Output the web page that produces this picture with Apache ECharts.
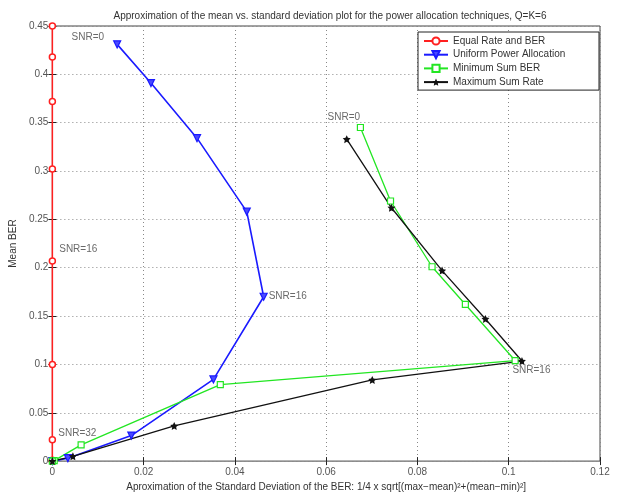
<!DOCTYPE html>
<html>
<head>
<meta charset="utf-8">
<script src="https://cdn.jsdelivr.net/npm/echarts@6/dist/echarts.min.js"></script>
<style>
  html, body { margin: 0; padding: 0; background: #fff; }
  #chart { width: 618px; height: 497px; }
</style>
</head>
<body>
<div id="chart"></div>
<script>
// values, SNR = 0, 4, ..., 32
const equalRateX = [0, 0, 0, 0, 0, 0, 0, 0, 0];
const equalRateY = [0.45, 0.418, 0.372, 0.302, 0.207, 0.1, 0.022, 0.001, 0];
const uniformX = [0.0142, 0.0216, 0.0317, 0.0426, 0.0463, 0.0353, 0.0173, 0.0034, 0];
const uniformY = [0.431, 0.391, 0.334, 0.258, 0.170, 0.0845, 0.0264, 0.003, 0];
const minSumX = [0.0675, 0.0741, 0.0832, 0.0905, 0.1014, 0.0368, 0.0063, 0.0004, 0];
const minSumY = [0.345, 0.269, 0.201, 0.162, 0.104, 0.079, 0.0168, 0.0005, 0];
const maxRateX = [0.0645, 0.0743, 0.0854, 0.0949, 0.1029, 0.0701, 0.0267, 0.0045, 0];
const maxRateY = [0.333, 0.262, 0.197, 0.147, 0.1035, 0.084, 0.0364, 0.005, 0];

const seriesNames = ['Equal Rate and BER', 'Uniform Power Allocation', 'Minimum Sum BER', 'Maximum Sum Rate'];

// annotations: x, y (left edge of the text), text
const noteX = [0.0042, 0.0015, 0.0013, 0.0474, 0.0603, 0.1008];
const noteY = [0.438, 0.219, 0.029, 0.170, 0.356, 0.094];
const noteText = ['SNR=0', 'SNR=16', 'SNR=32', 'SNR=16', 'SNR=0', 'SNR=16'];

const pairs = (xs, ys) => xs.map((x, i) => [x, ys[i]]);
const star = 'path://M0,-10L2.9,-4L9.5,-3.1L4.7,1.5L5.9,8.1L0,5L-5.9,8.1L-4.7,1.5L-9.5,-3.1L-2.9,-4Z';
const font = 'Liberation Sans, Arial, sans-serif';

var chart = echarts.init(document.getElementById('chart'));

var gridLine = { show: true, lineStyle: { color: '#888', type: [1, 3], width: 1 } };

var option = {
  animation: false,
  textStyle: { fontFamily: font },
  title: {
    text: 'Approximation of the mean vs. standard deviation plot for the power allocation techniques, Q=K=6',
    left: 325, top: 6, textAlign: 'center',
    textStyle: { fontSize: 10, fontWeight: 'normal', color: '#333', fontFamily: font }
  },
  grid: { left: 51, right: 18, top: 26, bottom: 34, show: true, borderColor: '#444', borderWidth: 1 },
  legend: {
    data: seriesNames,
    orient: 'vertical',
    left: 418, top: 32,
    itemWidth: 24, itemHeight: 9, itemGap: 3.7,
    padding: [4, 6, 3, 5],
    backgroundColor: '#fff', borderColor: '#222', borderWidth: 1, borderRadius: 0,
    textStyle: { fontSize: 10, color: '#333', width: 140, lineHeight: 10, fontFamily: font }
  },
  xAxis: [{
    type: 'value', min: 0, max: 0.12, interval: 0.02,
    name: 'Aproximation of the Standard Deviation of the BER: 1/4 x sqrt[(max\u2212mean)\u00b2+(mean\u2212min)\u00b2]',
    nameLocation: 'middle', nameGap: 20,
    nameTextStyle: { fontSize: 10, color: '#333' },
    axisLine: { show: false },
    axisTick: { show: true, inside: true, length: 4, lineStyle: { color: '#222' } },
    axisLabel: { fontSize: 10, color: '#555', margin: 6 },
    splitLine: gridLine
  }, {
    type: 'value', position: 'top', min: 0, max: 0.12, interval: 0.02,
    axisLine: { show: false },
    axisTick: { show: true, inside: true, length: 4, lineStyle: { color: '#222' } },
    axisLabel: { show: false }, splitLine: { show: false }
  }],
  yAxis: [{
    type: 'value', min: 0, max: 0.45, interval: 0.05,
    name: 'Mean BER', nameLocation: 'middle', nameGap: 26,
    nameTextStyle: { fontSize: 10, color: '#333' },
    axisLine: { show: false },
    axisTick: { show: true, inside: true, length: 4, lineStyle: { color: '#222' } },
    axisLabel: { fontSize: 10, color: '#555', margin: 4 },
    splitLine: gridLine
  }, {
    type: 'value', position: 'right', min: 0, max: 0.45, interval: 0.05,
    axisLine: { show: false },
    axisTick: { show: true, inside: true, length: 4, lineStyle: { color: '#222' } },
    axisLabel: { show: false }, splitLine: { show: false }
  }],
  series: [
    {
      name: seriesNames[0], type: 'line', clip: false,
      data: pairs(equalRateX, equalRateY),
      symbol: 'circle', symbolSize: 6,
      lineStyle: { color: '#ff2020', width: 1.5 },
      itemStyle: { color: '#fff', borderColor: '#ff2020', borderWidth: 1.5 }
    },
    {
      name: seriesNames[1], type: 'line', clip: false,
      data: pairs(uniformX, uniformY),
      symbol: 'triangle', symbolRotate: 180, symbolSize: 7,
      lineStyle: { color: '#1a1aff', width: 1.6 },
      itemStyle: { color: '#4a4aff', borderColor: '#1a1aff', borderWidth: 1.2 }
    },
    {
      name: seriesNames[2], type: 'line', clip: false,
      data: pairs(minSumX, minSumY),
      symbol: 'rect', symbolSize: 6,
      lineStyle: { color: '#22e622', width: 1.3 },
      itemStyle: { color: '#fff', borderColor: '#22e622', borderWidth: 1.2 }
    },
    {
      name: seriesNames[3], type: 'line', clip: false,
      data: pairs(maxRateX, maxRateY),
      symbol: star, symbolSize: 8,
      lineStyle: { color: '#111', width: 1.3 },
      itemStyle: { color: '#111' }
    },
    {
      name: 'notes', type: 'scatter', clip: false,
      data: noteX.map((x, i) => [x, noteY[i], noteText[i]]),
      symbolSize: 0, silent: true,
      label: {
        show: true, position: 'right', distance: 0,
        formatter: p => p.value[2],
        fontSize: 10, color: '#444', fontFamily: font
      }
    }
  ]
};

option && chart.setOption(option);
</script>
</body>
</html>
